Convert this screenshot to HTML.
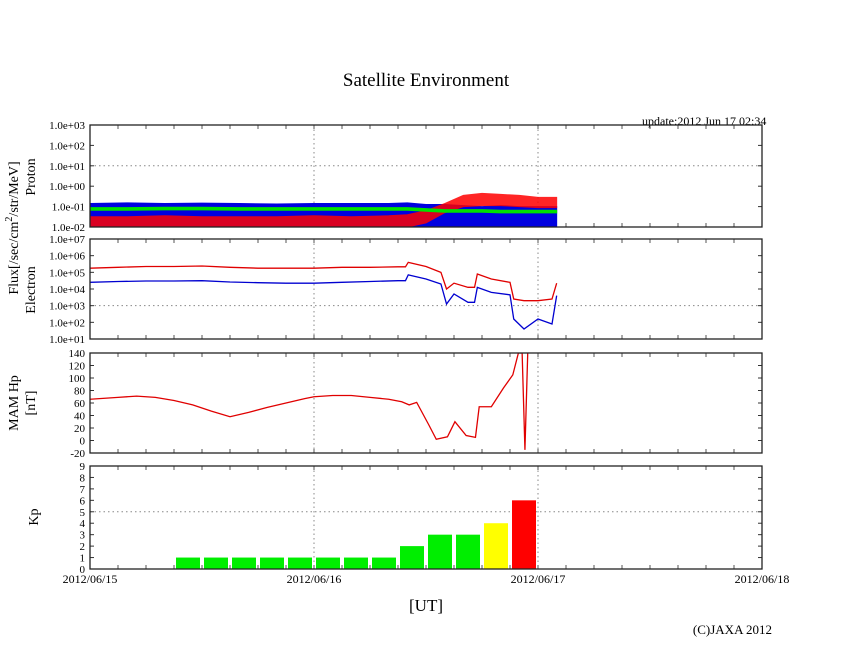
<!DOCTYPE html>
<html><head><meta charset="utf-8"><style>
body{margin:0;background:#fff;}
svg text{font-family:"Liberation Serif",serif;fill:#000;}
</style></head><body>
<svg id="c" width="846" height="655" xmlns="http://www.w3.org/2000/svg">
<text x="426" y="86" font-size="19" text-anchor="middle">Satellite Environment</text>
<text x="642" y="125" font-size="12">update:2012 Jun 17 02:34</text>
<text transform="translate(18,228) rotate(-90)" font-size="14" text-anchor="middle">Flux[/sec/cm<tspan font-size="10" dy="-6">2</tspan><tspan dy="6">/str/MeV]</tspan></text>
<text transform="translate(35,177) rotate(-90)" font-size="14" text-anchor="middle">Proton</text>
<text transform="translate(35,290) rotate(-90)" font-size="14" text-anchor="middle">Electron</text>
<text transform="translate(18,403) rotate(-90)" font-size="14" text-anchor="middle">MAM Hp</text>
<text transform="translate(35,403) rotate(-90)" font-size="14" text-anchor="middle">[nT]</text>
<text transform="translate(38,517) rotate(-90)" font-size="14" text-anchor="middle">Kp</text>
<text x="426" y="611" font-size="17" text-anchor="middle">[UT]</text>
<text x="772" y="634" font-size="13" text-anchor="end">(C)JAXA 2012</text>
<g id="g"></g>
</svg>
<script>
// time axis: hours since 2012/06/15 00:00
const xTickLabels=["2012/06/15","2012/06/16","2012/06/17","2012/06/18"];
// proton (log10 flux) bands
const pT=[0,4,8,12,16,20,24,28,32,34,36,38,40,42,44,46,48,50];
const pBlueHi=[-0.85,-0.82,-0.85,-0.83,-0.85,-0.87,-0.85,-0.85,-0.85,-0.82,-0.9,-0.9,-0.95,-1.0,-0.95,-1.0,-1.0,-1.0];
const pBlueLo=[-2,-2,-2,-2,-2,-2,-2,-2,-2,-2,-2,-2,-2,-2,-2,-2,-2,-2];
const pRedHi=[-1.5,-1.5,-1.45,-1.5,-1.5,-1.5,-1.45,-1.5,-1.45,-1.4,-1.2,-0.85,-0.45,-0.35,-0.4,-0.45,-0.55,-0.55];
const pRedLo=[-2,-2,-2,-2,-2,-2,-2,-2,-2,-2,-1.8,-1.3,-1.0,-0.95,-0.95,-1.0,-1.05,-1.05];
const pGreenHi=[-1.05,-1.05,-1.03,-1.03,-1.05,-1.05,-1.05,-1.05,-1.05,-1.05,-1.1,-1.15,-1.15,-1.15,-1.18,-1.18,-1.18,-1.18];
const pGreenLo=[-1.18,-1.18,-1.16,-1.16,-1.18,-1.18,-1.18,-1.18,-1.18,-1.18,-1.23,-1.28,-1.28,-1.28,-1.31,-1.31,-1.31,-1.31];
// electron (log10 flux)
const eT=[0,3,6,9,12,15,18,21,24,27,30,33,33.8,34.1,36,37.6,38.2,39,40.5,41.2,41.5,43,45,45.4,46.5,48,49.5,50];
const eRed=[5.25,5.3,5.35,5.35,5.38,5.3,5.25,5.25,5.25,5.3,5.3,5.33,5.33,5.6,5.35,5.0,4.0,4.35,4.1,4.1,4.9,4.6,4.4,3.4,3.3,3.3,3.4,4.35];
const eBlue=[4.4,4.45,4.48,4.48,4.5,4.42,4.38,4.35,4.35,4.4,4.45,4.5,4.5,4.85,4.6,4.3,3.1,3.7,3.2,3.2,4.1,3.8,3.65,2.2,1.6,2.2,1.9,3.6];
// MAM Hp [nT]
const mT=[0,3,5,7,9,11,13,15,17,19,21,23,24,26,28,30,32,33.4,34.2,35,36.3,37.1,38.3,39.1,40.3,41.3,41.7,43,44.3,45.3,45.9,46.3,46.6,46.9];
const mHp=[66,69,71,69,64,57,47,38,45,53,60,67,70,72,72,69,66,62,57,61,25,2,6,30,8,5,54,54,84,105,140,140,-15,140];
// Kp per 3-hour slot
const kpVals=[0,0,0,1,1,1,1,1,1,1,1,2,3,3,4,6];

const g=document.getElementById('g');
const NS="http://www.w3.org/2000/svg";
const X0=90,X1=762,HRS=72;
const xs=t=>X0+(X1-X0)*t/HRS;
function el(tag,attrs,parent){const e=document.createElementNS(NS,tag);for(const k in attrs)e.setAttribute(k,attrs[k]);(parent||g).appendChild(e);return e;}
const panels=[
 {top:125,bot:227,min:-2,max:3,name:'proton'},
 {top:239,bot:339,min:1,max:7,name:'electron'},
 {top:353,bot:453,min:-20,max:140,name:'mam'},
 {top:466,bot:569,min:0,max:9,name:'kp'}];
const ys=(p,v)=>p.bot-(p.bot-p.top)*(v-p.min)/(p.max-p.min);
function clip(p,id){const d=el('clipPath',{id:id});el('rect',{x:X0,y:p.top,width:X1-X0,height:p.bot-p.top},d);return 'url(#'+id+')';}
function band(p,T,hi,lo,col,name,cp,op){
 let pts=T.map((t,i)=>xs(t)+','+ys(p,hi[i]));
 for(let i=T.length-1;i>=0;i--)pts.push(xs(T[i])+','+ys(p,lo[i]));
 const e=el('polygon',{points:pts.join(' '),fill:col,stroke:col,'stroke-width':1,'clip-path':cp,opacity:op||1});
 
 }
function line(p,T,V,col,name,cp){
 const e=el('polyline',{points:T.map((t,i)=>xs(t)+','+ys(p,V[i])).join(' '),fill:'none',stroke:col,'stroke-width':1.3,'clip-path':cp});
 
 }
function dashH(p,v){el('line',{x1:X0,x2:X1,y1:ys(p,v),y2:ys(p,v),stroke:'#888','stroke-dasharray':'1.5,3','stroke-width':1});}
function yLabels(p,vals,fmt){vals.forEach(v=>{const y=ys(p,v);
 const t=el('text',{x:85,y:y+4,'font-size':11,'text-anchor':'end'});t.textContent=fmt(v);
 
 
 el('line',{x1:X0,x2:X0+4,y1:y,y2:y,stroke:'#333'});el('line',{x1:X1,x2:X1-4,y1:y,y2:y,stroke:'#333'});});}
const expFmt=v=>'1.0e'+(v<0?'-':'+')+String(Math.abs(v)).padStart(2,'0');
panels.forEach((p,pi)=>{
 [24,48].forEach(t=>el('line',{x1:xs(t),x2:xs(t),y1:p.top,y2:p.bot,stroke:'#888','stroke-dasharray':'1.5,3'}));
 for(let t=3;t<HRS;t+=3){el('line',{x1:xs(t),x2:xs(t),y1:p.top,y2:p.top+4,stroke:'#555'});el('line',{x1:xs(t),x2:xs(t),y1:p.bot,y2:p.bot-4,stroke:'#555'});}
});
const P=panels;
dashH(P[0],1);dashH(P[1],3);dashH(P[3],5);
yLabels(P[0],[-2,-1,0,1,2,3],expFmt);
yLabels(P[1],[1,2,3,4,5,6,7],expFmt);
yLabels(P[2],[-20,0,20,40,60,80,100,120,140],v=>String(v));
yLabels(P[3],[0,1,2,3,4,5,6,7,8,9],v=>String(v));
const c0=clip(P[0],'c0'),c1=clip(P[1],'c1'),c2=clip(P[2],'c2');
band(P[0],pT,pBlueHi,pBlueLo,'#0000e0','proton-blue-series',c0);
band(P[0],pT,pRedHi,pRedLo,'#ff0000','proton-red-series',c0,0.85);
band(P[0],pT,pGreenHi,pGreenLo,'#00e000','proton-green-series',c0);
line(P[1],eT,eRed,'#e00000','electron-red-series',c1);
line(P[1],eT,eBlue,'#0000d0','electron-blue-series',c1);
line(P[2],mT,mHp,'#e00000','mam-hp-series',c2);
kpVals.forEach((v,i)=>{if(v<=0)return;
 const col=v>=5?'#ff0000':(v>=4?'#ffff00':'#00ee00');
 const r=el('rect',{x:xs(i*3)+2,width:xs(3)-X0-4,y:ys(P[3],v),height:P[3].bot-ys(P[3],v),fill:col});
 
 });
panels.forEach(p=>{const r=el('rect',{x:X0,y:p.top,width:X1-X0,height:p.bot-p.top,fill:'none',stroke:'#222','stroke-width':1.3});
 
 });
xTickLabels.forEach((s,i)=>{const t=el('text',{x:xs(i*24),y:583,'font-size':12,'text-anchor':'middle'});t.textContent=s;
 
 });
</script>
</body></html>
